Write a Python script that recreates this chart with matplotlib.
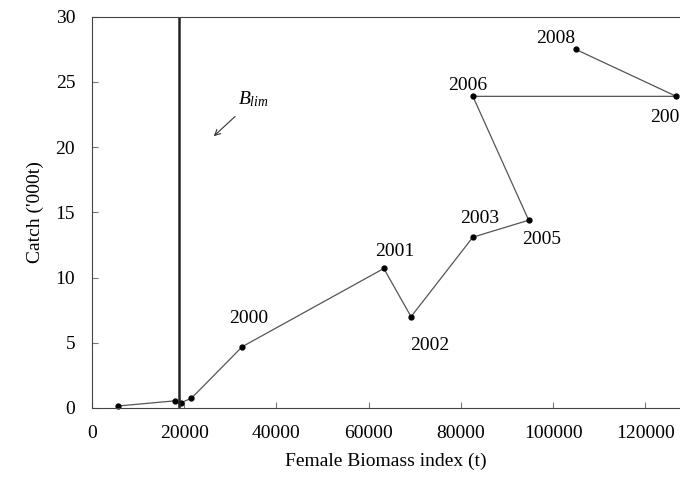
import matplotlib
matplotlib.use("Agg")
import matplotlib.pyplot as plt

biomass = [5600, 18000, 19300, 21600, 32600, 63300, 69200, 82600, 94700, 82600, 126700, 104900]
catch = [0.15, 0.55, 0.4, 0.75, 4.7, 10.7, 7.0, 13.1, 14.4, 23.9, 23.9, 27.5]
labels = {4: "2000", 5: "2001", 6: "2002", 7: "2003", 8: "2005", 9: "2006", 10: "2007", 11: "2008"}
label_off = {4: (1500, 2.2), 5: (2400, 1.3), 6: (4000, -2.2), 7: (1500, 1.4), 8: (2800, -1.5),
             9: (-1200, 0.8), 10: (-1500, -1.6), 11: (-4300, 0.8)}
blim = 19000

plt.rcParams['font.family'] = ['Liberation Serif', 'DejaVu Serif']
plt.rcParams['mathtext.fontset'] = 'custom'
plt.rcParams['mathtext.it'] = 'Liberation Serif:italic'
plt.rcParams['mathtext.rm'] = 'Liberation Serif'
fig = plt.figure(figsize=(6.8, 4.8), dpi=100)
ax = fig.add_axes([0.135, 0.15, 0.865, 0.815])
ax.plot(biomass, catch, color='#555555', lw=0.9, marker='o', ms=3.5, mfc='black', mec='black', clip_on=False)
ax.axvline(blim, color='#222222', lw=1.8)
for i, t in labels.items():
    dx, dy = label_off[i]
    ax.text(biomass[i] + dx, catch[i] + dy, t, fontsize=14, ha='center', va='center')
ax.annotate('', xy=(26000, 20.7), xytext=(31500, 22.5),
            arrowprops=dict(arrowstyle='->', color='#333333', lw=0.8))
ax.text(35000, 23.7, r'$B_{lim}$', fontsize=14, ha='center', va='center')
ax.set_xlim(0, 127500)
ax.set_ylim(0, 30)
ax.set_xticks(range(0, 120001, 20000))
ax.set_yticks(range(0, 31, 5))
ax.spines['right'].set_visible(False)
for s in ax.spines.values():
    s.set_color('#444444')
ax.tick_params(labelsize=14, direction='in', length=4, pad=12, color='#777777')
ax.set_xlabel('Female Biomass index (t)', fontsize=14, labelpad=8)
ax.set_ylabel("Catch ('000t)", fontsize=14, labelpad=8)
fig.savefig('out.png', dpi=100)
